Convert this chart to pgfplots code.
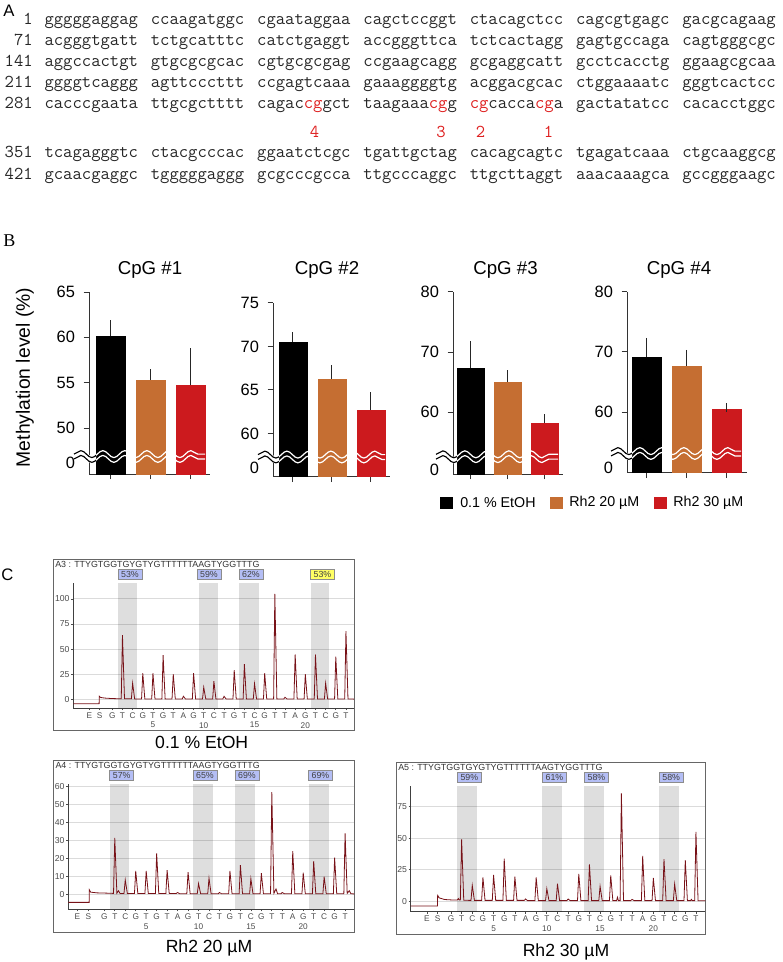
\documentclass[border=0pt]{standalone}
\usepackage{fontspec}
\setmainfont{Liberation Sans}
\newfontfamily\seriff{Liberation Serif}
\usepackage{pgfplots}
\pgfplotsset{compat=1.18}
\usetikzlibrary{decorations.pathmorphing}

\definecolor{barorange}{RGB}{197,110,50}
\definecolor{barred}{RGB}{204,26,30}
\definecolor{seqred}{RGB}{222,32,32}
\definecolor{tracered}{RGB}{120,18,24}
\definecolor{pctblue}{RGB}{180,190,245}
\definecolor{pctyellow}{RGB}{255,255,100}

\newcommand{\R}[1]{\textcolor{seqred}{#1}}
\newcommand{\seqrow}[9]{%
 \node[anchor=base east] at (33,#1) {#2};
 \node[anchor=base west] at (44.3,#1) {#3};
 \node[anchor=base west] at (150.6,#1) {#4};
 \node[anchor=base west] at (256.9,#1) {#5};
 \node[anchor=base west] at (363.2,#1) {#6};
 \node[anchor=base west] at (469.5,#1) {#7};
 \node[anchor=base west] at (575.8,#1) {#8};
 \node[anchor=base west] at (682.1,#1) {#9};
}
\tikzset{wv/.style={decorate, decoration={snake, amplitude=2.6pt, segment length=16.5pt}}}
% #1 x start, #2 first bar left, #3 last bar right, #4 y   (pixel units, flipped scope)
\newcommand{\breakwave}[4]{%
 \begin{scope}
  \clip (#1-3,#4-14) rectangle (#2,#4+14);
  \draw[white, line width=4.6pt, wv] (#1,#4) -- (#3,#4);
  \draw[black, line width=0.85pt, wv] (#1,#4-2.4) -- (#3,#4-2.4);
  \draw[black, line width=0.85pt, wv] (#1,#4+2.4) -- (#3,#4+2.4);
 \end{scope}
 \begin{scope}
  \clip (#2,#4-14) rectangle (#3,#4+14);
  \draw[white, line width=0.9pt, wv] (#1,#4-2.4) -- (#3,#4-2.4);
  \draw[white, line width=0.9pt, wv] (#1,#4+2.4) -- (#3,#4+2.4);
 \end{scope}
}
\newcommand{\pct}[4]{\node[fill=#4, draw=black!45, line width=0.4pt, inner sep=0pt, minimum width=18pt, minimum height=7.5pt, font=\fontsize{6.6}{7}\selectfont, text=black!75] at (#1,#2) {#3\%};}

\pgfplotsset{
 bstyle/.style={
  scale only axis, anchor=south west,
  axis x line*=bottom, axis y line*=left,
  xtick={0,1,2}, xticklabels={},
  tick align=outside, major tick length=4pt,
  axis line style={line width=0.75pt, black!80},
  tick style={line width=0.75pt, black!80},
  tick label style={font=\fontsize{12.3}{13}\selectfont},
  yticklabel style={xshift=-3pt},
  /pgf/number format/assume math mode=true,
  extra y tick style={tick style={draw=none}},
  error bars/y dir=plus, error bars/y explicit,
  error bars/error bar style={line width=0.8pt, draw=black!85},
  error bars/error mark options={line width=0.8pt, draw=black!85, mark size=3.4pt},
 },
 pstyle/.style={
  scale only axis, anchor=south west,
  axis x line*=bottom, axis y line*=left,
  axis line style={line width=0.6pt, black!75},
  ymajorgrids, grid style={line width=0.6pt, black!14},
  tick align=outside, major tick length=1.6pt,
  tick style={line width=0.5pt, black!70},
  yticklabel style={font=\fontsize{6.5}{7}\selectfont, text=black!70, inner sep=1pt},
  xticklabel style={font=\fontsize{6.2}{7}\selectfont, text=black!70, inner sep=1.5pt},
  /pgf/number format/assume math mode=true,
  xticklabels={E,S,G,T,C,G,T,G,T,A,G,T,C,T,G,T,C,G,T,T,A,G,T,C,G,T},
  extra x ticks={5,10,15,20}, extra x tick labels={5,10,15,20},
  extra x tick style={major tick length=0pt, xticklabel style={yshift=-9pt}},
 },
 trace/.style={draw=tracered, line width=0.6pt, mark=none, sharp plot},
}

\begin{document}
\begin{tikzpicture}
\begin{scope}[x=0.75pt,y=-0.75pt]
\useasboundingbox (0,0) rectangle (782,962);

% ---------- panel labels
\node[anchor=base west, inner sep=0, font=\fontsize{12.5}{13}\selectfont] at (3,17) {A};
\node[anchor=base west, inner sep=0, font=\seriff\fontsize{13.5}{14}\selectfont] at (3,246.7) {B};
\node[anchor=base west, inner sep=0, font=\fontsize{12.5}{13}\selectfont] at (1,580) {C};

% ---------- panel A : sequence
\begin{scope}[every node/.style={inner sep=0, font=\ttfamily\fontsize{13.6}{14}\selectfont, text=black!85}]
\seqrow{25}{1}{gggggaggag}{ccaagatggc}{cgaataggaa}{cagctccggt}{ctacagctcc}{cagcgtgagc}{gacgcagaag}
\seqrow{46}{71}{acgggtgatt}{tctgcatttc}{catctgaggt}{accgggttca}{tctcactagg}{gagtgccaga}{cagtgggcgc}
\seqrow{67}{141}{aggccactgt}{gtgcgcgcac}{cgtgcgcgag}{ccgaagcagg}{gcgaggcatt}{gcctcacctg}{ggaagcgcaa}
\seqrow{88}{211}{ggggtcaggg}{agttcccttt}{ccgagtcaaa}{gaaaggggtg}{acggacgcac}{ctggaaaatc}{gggtcactcc}
\seqrow{109}{281}{cacccgaata}{ttgcgctttt}{cagac\R{cg}gct}{taagaaa\R{cg}g}{\R{cg}cacca\R{cg}a}{gactatatcc}{cacacctggc}
\seqrow{158}{351}{tcagagggtc}{ctacgcccac}{ggaatctcgc}{tgattgctag}{cacagcagtc}{tgagatcaaa}{ctgcaaggcg}
\seqrow{180}{421}{gcaacgaggc}{tgggggaggg}{gcgcccgcca}{ttgcccaggc}{ttgcttaggt}{aaacaaagca}{gccgggaagc}
\node[anchor=base, text=seqred] at (314.5,138) {4};
\node[anchor=base, text=seqred] at (441,138) {3};
\node[anchor=base, text=seqred] at (480.5,138) {2};
\node[anchor=base, text=seqred] at (548.5,138) {1};
\end{scope}

% ---------- panel B texts
\node[rotate=90, inner sep=0, font=\fontsize{14.5}{15}\selectfont] at (25,377.5) {Methylation level (\%)};
\begin{scope}[every node/.style={font=\fontsize{14}{15}\selectfont}]
\node at (150,270) {CpG \#1};
\node at (327,270) {CpG \#2};
\node at (505.5,270) {CpG \#3};
\node at (679,270) {CpG \#4};
\end{scope}
% legend
\fill[black] (440,496.5) rectangle (453,509);
\fill[barorange] (550,496.5) rectangle (563,509);
\fill[barred] (654,496.5) rectangle (667,509);
\begin{scope}[every node/.style={anchor=west, inner sep=0, font=\fontsize{10.7}{11}\selectfont}]
\node at (460,502.7) {0.1 \% EtOH};
\node at (569,502.7) {Rh2 20 µM};
\node at (673,502.7) {Rh2 30 µM};
\end{scope}

% ---------- panel C frames and texts
\draw[black!60, line width=0.75pt] (53,559) rectangle (354,730.7);
\draw[black!60, line width=0.75pt] (53.3,760.7) rectangle (354.3,932.3);
\draw[black!60, line width=0.75pt] (396,762.3) rectangle (705.3,934.3);
\begin{scope}[every node/.style={anchor=west, inner sep=0, font=\fontsize{6.65}{7}\selectfont, text=black!80}]
\node at (55,564) {A3 : TTYGTGGTGYGTYGTTTTTTAAGTYGGTTTG};
\node at (55.3,765.5) {A4 : TTYGTGGTGYGTYGTTTTTTAAGTYGGTTTG};
\node at (398,767.3) {A5 : TTYGTGGTGYGTYGTTTTTTAAGTYGGTTTG};
\end{scope}
\begin{scope}[every node/.style={inner sep=0, font=\fontsize{13.2}{14}\selectfont}]
\node at (201.7,742.7) {0.1 \% EtOH};
\node at (209,948.3) {Rh2 20 µM};
\node at (566,952.3) {Rh2 30 µM};
\end{scope}
\end{scope}

% ================= axes (default coordinate system) =================
% CpG #1
\begin{axis}[bstyle, at={(66.75pt,-355.5pt)}, width=90.75pt, height=136.5pt,
  xmin=-0.54, xmax=2.49, ymin=44.93, ymax=65, ytick={50,55,60,65},
  extra y ticks={46.14}, extra y tick labels={0}]
\addplot[ybar, bar shift=0pt, bar width=21.75pt, fill=black, draw=black, line width=0.1pt] coordinates {(0,60.1) +- (0,1.3)};
\addplot[ybar, bar shift=0pt, bar width=21.75pt, fill=barorange, draw=barorange, line width=0.1pt] coordinates {(1,55.3) +- (0,0.7)};
\addplot[ybar, bar shift=0pt, bar width=21.75pt, fill=barred, draw=barred, line width=0.1pt] coordinates {(2,54.7) +- (0,3.6)};
\end{axis}

% CpG #2
\begin{axis}[bstyle, at={(204.75pt,-357.525pt)}, width=87.75pt, height=130.3pt,
  xmin=-0.51, xmax=2.49, ymin=55.02, ymax=75, ytick={60,65,70,75},
  extra y ticks={56.0}, extra y tick labels={0}]
\addplot[ybar, bar shift=0pt, bar width=21.4pt, fill=black, draw=black, line width=0.1pt] coordinates {(0,70.5) +- (0,0.6)};
\addplot[ybar, bar shift=0pt, bar width=21.4pt, fill=barorange, draw=barorange, line width=0.1pt] coordinates {(1,66.3) +- (0,1.0)};
\addplot[ybar, bar shift=0pt, bar width=21.4pt, fill=barred, draw=barred, line width=0.1pt] coordinates {(2,62.7) +- (0,1.5)};
\end{axis}

% CpG #3
\begin{axis}[bstyle, at={(339.75pt,-355.5pt)}, width=82.5pt, height=136.7pt,
  xmin=-0.47, xmax=2.5, ymin=49.77, ymax=80, ytick={60,70,80},
  extra y ticks={50.43}, extra y tick labels={0}]
\addplot[ybar, bar shift=0pt, bar width=20.6pt, fill=black, draw=black, line width=0.1pt] coordinates {(0,67.4) +- (0,3.6)};
\addplot[ybar, bar shift=0pt, bar width=20.6pt, fill=barorange, draw=barorange, line width=0.1pt] coordinates {(1,65.0) +- (0,1.2)};
\addplot[ybar, bar shift=0pt, bar width=20.6pt, fill=barred, draw=barred, line width=0.1pt] coordinates {(2,58.3) +- (0,0.6)};
\end{axis}

% CpG #4
\begin{axis}[bstyle, at={(470.25pt,-354.525pt)}, width=90pt, height=135.75pt,
  xmin=-0.49, xmax=2.51, ymin=49.98, ymax=80, ytick={60,70,80},
  extra y ticks={50.75}, extra y tick labels={0}]
\addplot[ybar, bar shift=0pt, bar width=21.75pt, fill=black, draw=black, line width=0.1pt] coordinates {(0,69.2) +- (0,2.4)};
\addplot[ybar, bar shift=0pt, bar width=21.75pt, fill=barorange, draw=barorange, line width=0.1pt] coordinates {(1,67.7) +- (0,1.9)};
\addplot[ybar, bar shift=0pt, bar width=21.75pt, fill=barred, draw=barred, line width=0.1pt] coordinates {(2,60.6) +- (0,0.15)};
\end{axis}

% Pyrogram A3
\begin{axis}[pstyle, at={(54.975pt,-531pt)}, width=210.5pt, height=93.75pt,
  xmin=-2.84, xmax=24.79, ymin=-8.66, ymax=115.8, ytick={0,25,50,75,100},
  xtick={-1.25,-0.25,1,2,3,4,5,6,7,8,9,10,11,12,13,14,15,16,17,18,19,20,21,22,23,24}]
\fill[black, opacity=0.13] (axis cs:1.55,-8.66) rectangle (axis cs:3.45,115.8);
\fill[black, opacity=0.13] (axis cs:9.53,-8.66) rectangle (axis cs:11.4,115.8);
\fill[black, opacity=0.13] (axis cs:13.47,-8.66) rectangle (axis cs:15.44,115.8);
\fill[black, opacity=0.13] (axis cs:20.56,-8.66) rectangle (axis cs:22.33,115.8);
\addplot[trace] coordinates {(-2.84,-4.5) (-0.3,-4.5) (-0.28,3) (-0.15,1.8) (0.3,1.2) (0.9,0.8) (1.5,0.6)
 (1.88,0.5) (2,64) (2.2,0.5) (2.88,0.5) (3,16) (3.2,0.4) (3.88,0.4) (4,26) (4.2,0.4)
 (4.88,0.4) (5,26) (5.2,0.4) (5.88,0.4) (6,44) (6.2,0.4) (6.88,0.4) (7,25) (7.2,0.3)
 (7.88,0.3) (8,3) (8.2,0.3) (8.88,0.3) (9,26) (9.2,0.3) (9.88,0.3) (10,12) (10.2,0.3)
 (10.88,0.3) (11,18) (11.2,0.3) (11.88,0.3) (12,3) (12.2,0.3) (12.88,0.3) (13,29) (13.2,0.3)
 (13.88,0.3) (14,35) (14.2,0.3) (14.88,0.3) (15,15.5) (15.2,0.3) (15.88,0.3) (16,26) (16.2,0.3)
 (16.88,0.3) (17,105) (17.2,0.3) (17.88,0.3) (18,2) (18.2,0.3) (18.88,0.3) (19,44.6) (19.2,0.3)
 (19.88,0.3) (20,25) (20.2,0.3) (20.88,0.3) (21,44.6) (21.2,0.3) (21.88,0.3) (22,16) (22.2,0.3)
 (22.88,0.3) (23,42.5) (23.2,0.3) (23.88,0.3) (24,68) (24.2,0.3) (24.79,0.2)};
\end{axis}

% Pyrogram A4
\begin{axis}[pstyle, at={(51.225pt,-681.975pt)}, width=214.5pt, height=94pt,
  xmin=-2.44, xmax=24.88, ymin=-8.37, ymax=61.5, ytick={0,10,20,30,40,50,60},
  xtick={-1.58,-0.53,1,2,3,4,5,6,7,8,9,10,11,12,13,14,15,16,17,18,19,20,21,22,23,24}]
\fill[black, opacity=0.13] (axis cs:1.55,-8.37) rectangle (axis cs:3.40,61.5);
\fill[black, opacity=0.13] (axis cs:9.5,-8.37) rectangle (axis cs:11.35,61.5);
\fill[black, opacity=0.13] (axis cs:13.5,-8.37) rectangle (axis cs:15.36,61.5);
\fill[black, opacity=0.13] (axis cs:20.58,-8.37) rectangle (axis cs:22.43,61.5);
\addplot[trace] coordinates {(-2.44,-4.5) (-0.45,-4.5) (-0.43,2.5) (-0.3,1.2) (0.3,0.8) (1.5,0.6)
 (1.88,0.5) (2,31.5) (2.2,0.6) (2.35,2) (2.5,0.5) (2.88,0.5) (3,8) (3.2,0.5)
 (3.88,0.5) (4,13) (4.2,0.5) (4.88,0.5) (5,13) (5.2,0.5) (5.88,0.5) (6,22.8) (6.2,0.5)
 (6.88,0.5) (7,13.5) (7.2,0.5) (7.88,0.5) (8,1) (8.2,0.3) (8.88,0.3) (9,12.4) (9.2,0.3)
 (9.88,0.3) (10,6) (10.2,0.3) (10.88,0.3) (11,9) (11.2,0.3) (11.88,0.3) (12,1) (12.2,0.3)
 (12.88,0.3) (13,13) (13.2,0.3) (13.88,0.3) (14,16.3) (14.2,0.3) (14.88,0.3) (15,8.7) (15.2,0.3)
 (15.88,0.3) (16,11.8) (16.2,0.3) (16.88,0.3) (17,57) (17.2,0.5) (17.4,3) (17.55,0.3)
 (17.88,0.3) (18,1) (18.2,0.3) (18.88,0.3) (19,24) (19.2,0.3) (19.88,0.3) (20,12) (20.2,0.3)
 (20.88,0.3) (21,18.5) (21.2,0.3) (21.88,0.3) (22,9.8) (22.2,0.3) (22.88,0.3) (23,20.4) (23.2,0.3)
 (23.88,0.3) (24,34) (24.2,0.5) (24.4,2) (24.55,0.3) (24.88,0.2)};
\end{axis}

% Pyrogram A5
\begin{axis}[pstyle, at={(308.025pt,-683.775pt)}, width=220.95pt, height=94.3pt,
  xmin=-2.78, xmax=24.88, ymin=-8.5, ymax=91.5, ytick={0,25,50,75},
  xtick={-1.25,-0.25,1,2,3,4,5,6,7,8,9,10,11,12,13,14,15,16,17,18,19,20,21,22,23,24}]
\fill[black, opacity=0.13] (axis cs:1.59,-8.5) rectangle (axis cs:3.47,91.5);
\fill[black, opacity=0.13] (axis cs:9.57,-8.5) rectangle (axis cs:11.45,91.5);
\fill[black, opacity=0.13] (axis cs:13.52,-8.5) rectangle (axis cs:15.39,91.5);
\fill[black, opacity=0.13] (axis cs:20.53,-8.5) rectangle (axis cs:22.41,91.5);
\addplot[trace] coordinates {(-2.78,-4) (-0.27,-4) (-0.25,4.5) (-0.1,2.5) (0.4,1.2) (1.2,0.8) (1.6,0.8) (1.69,2) (1.78,0.8)
 (1.88,0.8) (2,49) (2.2,0.6) (2.88,0.5) (3,12.5) (3.2,0.5) (3.88,0.5) (4,18.8) (4.2,0.5)
 (4.88,0.5) (5,20.7) (5.2,0.5) (5.88,0.5) (6,33.7) (6.2,0.5) (6.88,0.5) (7,19.4) (7.2,0.5)
 (7.88,0.5) (8,1.6) (8.2,0.3) (8.88,0.3) (9,18.8) (9.2,0.3) (9.88,0.3) (10,9.8) (10.2,0.3)
 (10.88,0.3) (11,13.8) (11.2,0.3) (11.88,0.3) (12,1.6) (12.2,0.3) (12.88,0.3) (13,21.5) (13.2,0.3)
 (13.88,0.3) (14,29.2) (14.2,0.3) (14.88,0.3) (15,11.7) (15.2,0.3) (15.88,0.3) (16,20.4) (16.2,0.3)
 (16.55,0.3) (16.63,3) (16.72,0.3) (16.88,0.3) (17,85.7) (17.2,0.3) (17.88,0.3) (18,1.3) (18.2,0.3)
 (18.88,0.3) (19,35.8) (19.2,0.3) (19.88,0.3) (20,18.3) (20.2,0.3) (20.88,0.3) (21,33.4) (21.2,0.3)
 (21.88,0.3) (22,13.5) (22.2,0.3) (22.88,0.3) (23,32.6) (23.2,0.3) (23.5,0.3) (23.57,1.3) (23.65,0.3)
 (23.88,0.3) (24,55) (24.2,0.3) (24.88,0.2)};
\end{axis}

% ================= overlays (pixel scope) =================
\begin{scope}[x=0.75pt,y=-0.75pt]
\breakwave{74}{96}{205}{456.5}
\breakwave{258}{279}{385}{457}
\breakwave{436}{457}{558}{456.7}
\breakwave{611}{632}{741}{453.5}
\pct{130}{574.3}{53}{pctblue}
\pct{209}{574.3}{59}{pctblue}
\pct{251}{574.3}{62}{pctblue}
\pct{322.5}{574.3}{53}{pctyellow}
\pct{121.7}{775.3}{57}{pctblue}
\pct{205}{775.3}{65}{pctblue}
\pct{247}{775.3}{69}{pctblue}
\pct{320.5}{775.3}{69}{pctblue}
\pct{469.3}{777.3}{59}{pctblue}
\pct{554.5}{777.3}{61}{pctblue}
\pct{596.5}{777.3}{58}{pctblue}
\pct{671.2}{777.3}{58}{pctblue}
\end{scope}
\end{tikzpicture}
\end{document}
